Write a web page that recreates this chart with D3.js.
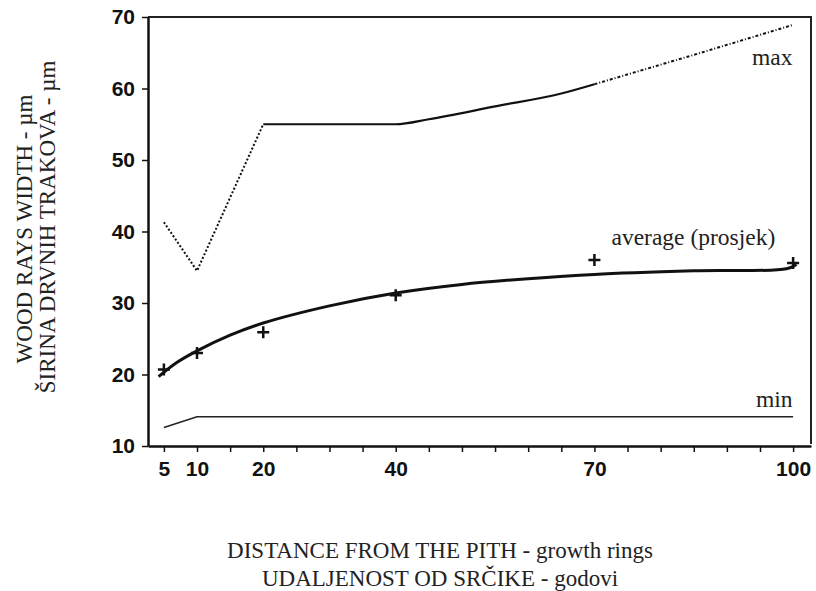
<!DOCTYPE html>
<html>
<head>
<meta charset="utf-8">
<script src="https://cdn.jsdelivr.net/npm/d3@7"></script>
<style>
body { margin: 0; background: #fff; }
.tick-label { font-family: "Liberation Sans", Arial, sans-serif; font-weight: bold; font-size: 21px; fill: #111; }
.title { font-family: "Liberation Serif", "Times New Roman", serif; font-size: 23px; fill: #222; }
.note { font-family: "Liberation Serif", "Times New Roman", serif; font-size: 23.5px; fill: #222; }
</style>
</head>
<body>
<svg id="chart" width="816" height="591"></svg>
<script>
// values
var xTickValues = d3.range(5, 101, 5);
var xTickLabels = [5, 10, 20, 40, 70, 100];
var yTickValues = [10, 20, 30, 40, 50, 60, 70];

var maxX = [5, 10, 20, 40, 45, 55, 65, 70, 85, 100];
var maxY = [41.3, 34.5, 55, 55, 55.7, 57.5, 59.3, 60.6, 64.7, 68.9];

var avgFitX = [4.2, 7, 10, 15, 20, 30, 40, 50, 60, 70, 85, 99, 100.5];
var avgFitY = [19.7, 21.7, 23.3, 25.5, 27.2, 29.6, 31.4, 32.6, 33.4, 34.0, 34.5, 34.8, 35.4];

var avgPointX = [5, 10, 20, 40, 70, 100];
var avgPointY = [20.7, 23.0, 25.9, 31.1, 36.0, 35.6];

var minX = [5, 10, 100];
var minY = [12.6, 14.1, 14.1];

var svg = d3.select("#chart");

var x = d3.scaleLinear().domain([2.6, 102.7]).range([148, 811]);
var y = d3.scaleLinear().domain([10, 70]).range([446, 17]);

// frame
svg.append("line").attr("x1", 148).attr("x2", 811).attr("y1", y(70)).attr("y2", y(70))
	.attr("stroke", "#222").attr("stroke-width", 2);
svg.append("line").attr("x1", 811).attr("x2", 811).attr("y1", y(70) - 1).attr("y2", y(10) - 2)
	.attr("stroke", "#222").attr("stroke-width", 2);

// y axis
var yAxis = svg.append("g").attr("transform", "translate(148,0)")
	.call(d3.axisLeft(y).tickValues(yTickValues).tickSize(6).tickSizeOuter(0).tickPadding(7).tickFormat(d3.format("d")));
yAxis.select(".domain").attr("stroke", "#111").attr("stroke-width", 2.5);
yAxis.selectAll(".tick line").attr("stroke", "#111").attr("stroke-width", 1.5);
yAxis.selectAll(".tick text").attr("class", "tick-label").attr("font-family", null).attr("font-size", null);

// x axis
var xAxis = svg.append("g").attr("transform", "translate(0," + y(10) + ")")
	.call(d3.axisBottom(x).tickValues(xTickValues).tickSize(6).tickSizeOuter(0).tickPadding(9)
		.tickFormat(function(d){ return xTickLabels.indexOf(d) >= 0 ? d : ""; }));
xAxis.select(".domain").attr("stroke", "#111").attr("stroke-width", 2.5);
xAxis.selectAll(".tick line").attr("stroke", "#111").attr("stroke-width", 1.5);
xAxis.selectAll(".tick text").attr("class", "tick-label").attr("font-family", null).attr("font-size", null);

var line = d3.line().x(function(d){ return x(d[0]); }).y(function(d){ return y(d[1]); });

// max: dotted, solid, dotted parts
var maxPts = d3.zip(maxX, maxY);
svg.append("path").attr("d", line(maxPts.slice(0, 3)))
	.attr("fill", "none").attr("stroke", "#111").attr("stroke-width", 2).attr("stroke-dasharray", "2,2");
svg.append("path").attr("d", line.curve(d3.curveMonotoneX)(maxPts.slice(2, 8)))
	.attr("fill", "none").attr("stroke", "#111").attr("stroke-width", 2.2);
svg.append("path").attr("d", line.curve(d3.curveLinear)(maxPts.slice(7)))
	.attr("fill", "none").attr("stroke", "#111").attr("stroke-width", 2).attr("stroke-dasharray", "3,2,1,2");

// average fitted curve
svg.append("path").attr("d", line.curve(d3.curveCatmullRom)(d3.zip(avgFitX, avgFitY)))
	.attr("fill", "none").attr("stroke", "#111").attr("stroke-width", 3);
line.curve(d3.curveLinear);

// average points (+)
svg.selectAll(".plus").data(d3.zip(avgPointX, avgPointY)).enter().append("path")
	.attr("class", "plus")
	.attr("d", function(d){
		var cx = x(d[0]), cy = y(d[1]), r = 6;
		return "M" + (cx - r) + "," + cy + "H" + (cx + r) + "M" + cx + "," + (cy - r) + "V" + (cy + r);
	})
	.attr("stroke", "#111").attr("stroke-width", 2.5);

// min
svg.append("path").attr("d", line(d3.zip(minX, minY)))
	.attr("fill", "none").attr("stroke", "#222").attr("stroke-width", 1.6);

// line labels
svg.append("text").attr("class", "note").attr("x", x(99.9)).attr("y", y(63.3)).attr("text-anchor", "end").text("max");
svg.append("text").attr("class", "note").attr("x", x(97.3)).attr("y", y(38.1)).attr("text-anchor", "end").text("average (prosjek)");
svg.append("text").attr("class", "note").attr("x", x(99.9)).attr("y", y(15.45)).attr("text-anchor", "end").text("min");

// axis titles
svg.append("text").attr("class", "title").attr("text-anchor", "middle")
	.attr("transform", "translate(32,229) rotate(-90)").text("WOOD RAYS WIDTH - µm");
svg.append("text").attr("class", "title").attr("text-anchor", "middle")
	.attr("transform", "translate(55,227) rotate(-90)").text("ŠIRINA DRVNIH TRAKOVA - µm");

svg.append("text").attr("class", "title").attr("text-anchor", "middle")
	.attr("x", 440).attr("y", 558).text("DISTANCE FROM THE PITH - growth rings");
svg.append("text").attr("class", "title").attr("text-anchor", "middle")
	.attr("x", 440).attr("y", 586).text("UDALJENOST OD SRČIKE - godovi");
</script>
</body>
</html>
